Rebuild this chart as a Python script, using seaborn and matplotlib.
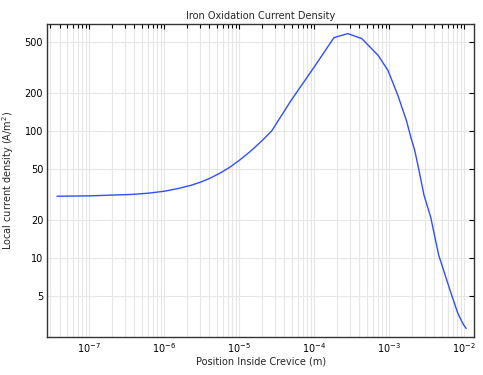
import matplotlib
matplotlib.use("Agg")
import matplotlib.pyplot as plt
import matplotlib.ticker as mticker
import numpy as np
import pandas as pd
import seaborn as sns

# Data
position = [3.7e-8, 1e-7, 3.6e-7, 6e-7, 1e-6, 1.6e-6, 2.3e-6, 3.1e-6, 4e-6,
            5.7e-6, 7.5e-6, 1e-5, 1.3e-5, 1.58e-5, 2.1e-5, 2.7e-5, 4.9e-5,
            1e-4, 1.83e-4, 2.8e-4, 4.3e-4, 7.07e-4, 9.6e-4, 1.3e-3, 1.69e-3,
            1.96e-3, 2.18e-3, 2.46e-3, 2.9e-3, 3.56e-3, 4.56e-3, 6.7e-3,
            8.2e-3, 9.1e-3, 9.9e-3, 1.06e-2]
current = [30.6, 30.8, 31.6, 32.3, 33.5, 35.4, 37.4, 39.7, 42.2,
           47.0, 51.9, 58.7, 66.5, 73.5, 86.0, 100.0, 174.0,
           320.0, 544.0, 585.0, 534.0, 395.0, 300.0, 191.0, 121.0,
           87.0, 70.5, 50.6, 31.2, 21.0, 10.5, 5.2,
           3.66, 3.22, 2.94, 2.78]
y_ticks = [5, 10, 20, 50, 100, 200, 500]
x_ticks = [1e-7, 1e-6, 1e-5, 1e-4, 1e-3, 1e-2]

df = pd.DataFrame({"x": position, "y": current})

sns.set_style("white")
plt.rcParams["font.family"] = ["DejaVu Sans"]

fig = plt.figure(figsize=(4.83, 3.75), dpi=100)
ax = fig.add_axes([47.3 / 483, 1 - 337 / 375, (474.3 - 47.3) / 483, (337 - 24.5) / 375])

sns.lineplot(data=df, x="x", y="y", ax=ax, color="#2f4fff", linewidth=1.0)

ax.set_xscale("log")
ax.set_yscale("log")
ax.set_xlim(2.75e-8, 1.36e-2)
ax.set_ylim(2.38, 690)

ax.xaxis.set_major_locator(mticker.FixedLocator(x_ticks))
ax.xaxis.set_minor_locator(mticker.LogLocator(base=10, subs=np.arange(2, 10), numticks=20))
ax.xaxis.set_minor_formatter(mticker.NullFormatter())
ax.xaxis.set_major_formatter(mticker.LogFormatterMathtext())

ax.yaxis.set_major_locator(mticker.FixedLocator(y_ticks))
ax.yaxis.set_minor_locator(mticker.NullLocator())
ax.yaxis.set_major_formatter(mticker.FixedFormatter([str(v) for v in y_ticks]))

ax.grid(True, which="major", axis="both", color="#e6e6e6", linewidth=0.8)
ax.grid(True, which="minor", axis="x", color="#e6e6e6", linewidth=0.8)
ax.set_axisbelow(True)

ax.tick_params(which="both", direction="in", top=True, right=True, labelsize=7,
               colors="black", width=0.8)
ax.tick_params(which="major", length=3.5, pad=3)
ax.tick_params(which="minor", length=3)

for s in ax.spines.values():
    s.set_color("#333333")
    s.set_linewidth(1.0)

ax.set_title("Iron Oxidation Current Density", fontsize=7, pad=4)
ax.set_xlabel("Position Inside Crevice (m)", fontsize=7, labelpad=1)
ax.set_ylabel("Local current density (A/m$^2$)", fontsize=7, labelpad=6)

fig.savefig("out.png", dpi=100)
